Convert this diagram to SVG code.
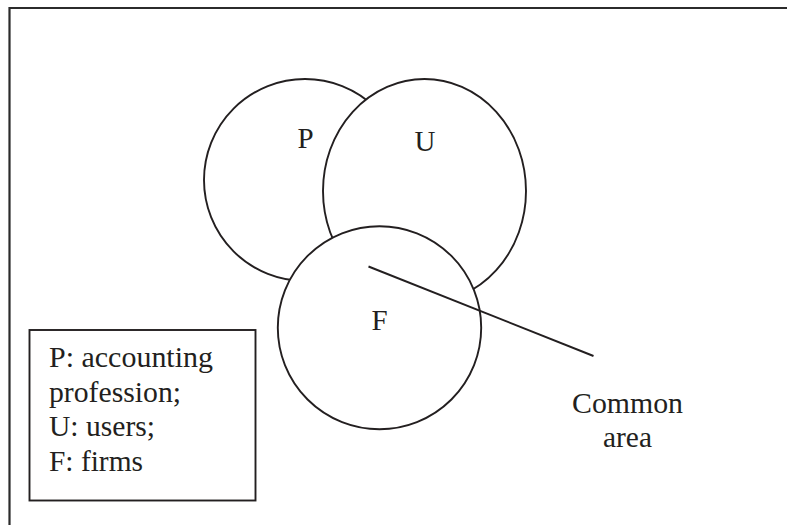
<svg xmlns="http://www.w3.org/2000/svg" width="787" height="525" viewBox="0 0 787 525">
<style>
.sh{fill:#fff;stroke:#231f20;stroke-width:1.9}
.ln{fill:none;stroke:#231f20;stroke-width:1.9}
.fr{fill:none;stroke:#2b2b2b;stroke-width:2.2}
.t{font-family:'Liberation Serif','Times New Roman',Times,serif;font-size:29px;fill:#231f20}
</style>
<rect width="787" height="525" fill="#fff"/>
<path class="fr" d="M9.5,525 V8 H787"/>
<g id="P"><ellipse class="sh" cx="305" cy="180" rx="101" ry="101"/><text class="t" x="305.5" y="147.5" text-anchor="middle">P</text></g>
<g id="U"><ellipse class="sh" cx="424.5" cy="191" rx="101.5" ry="112"/><text class="t" x="425" y="151" text-anchor="middle">U</text></g>
<g id="F"><ellipse class="sh" cx="379.5" cy="327.7" rx="101.7" ry="101.5"/><text class="t" x="379.5" y="329.5" text-anchor="middle">F</text></g>
<g id="connectors"><line class="ln" x1="368.5" y1="266.5" x2="593.5" y2="356"/></g>
<g id="common-area"><text class="t" x="627.5" y="413" text-anchor="middle" textLength="111" lengthAdjust="spacingAndGlyphs">Common</text><text class="t" x="627.5" y="447" text-anchor="middle" textLength="49" lengthAdjust="spacingAndGlyphs">area</text></g>
<g id="legend"><rect class="ln" x="29.5" y="330" width="226" height="170.5"/>
<text class="t" x="49" y="366.5" textLength="164" lengthAdjust="spacingAndGlyphs">P: accounting</text>
<text class="t" x="49" y="401.5" textLength="132" lengthAdjust="spacingAndGlyphs">profession;</text>
<text class="t" x="49" y="436.3" textLength="106" lengthAdjust="spacingAndGlyphs">U: users;</text>
<text class="t" x="49" y="470.8" textLength="94" lengthAdjust="spacingAndGlyphs">F: firms</text></g>
</svg>
